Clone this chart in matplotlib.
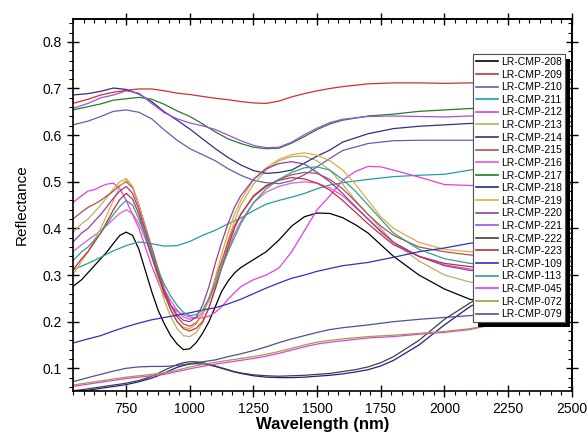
import matplotlib
matplotlib.use('Agg')
import matplotlib.pyplot as plt
from matplotlib.ticker import MultipleLocator, AutoMinorLocator
import matplotlib.patheffects as pe

plt.rcParams['font.family'] = ['Liberation Sans', 'DejaVu Sans']

# coarse grid for the smooth spectra
wl = [540, 600, 650, 700, 750, 800, 850, 900, 950, 1000, 1050, 1100, 1150, 1200, 1250,
      1300, 1350, 1400, 1450, 1500, 1550, 1600, 1700, 1800, 1900, 2000, 2100, 2200,
      2300, 2400, 2500]
# finer grid for spectra with the deep band near 1000 nm
wl_f = [540, 575, 600, 625, 650, 675, 700, 725, 750, 775, 800, 825, 850, 875, 900, 925,
        950, 975, 1000, 1025, 1050, 1075, 1100, 1125, 1150, 1175, 1200, 1250, 1300, 1350,
        1400, 1450, 1500, 1550, 1600, 1650, 1700, 1750, 1800, 1900, 2000, 2100, 2200,
        2300, 2400, 2500]

labels = ['LR-CMP-208', 'LR-CMP-209', 'LR-CMP-210', 'LR-CMP-211', 'LR-CMP-212', 'LR-CMP-213',
          'LR-CMP-214', 'LR-CMP-215', 'LR-CMP-216', 'LR-CMP-217', 'LR-CMP-218', 'LR-CMP-219',
          'LR-CMP-220', 'LR-CMP-221', 'LR-CMP-222', 'LR-CMP-223', 'LR-CMP-109', 'LR-CMP-113',
          'LR-CMP-045', 'LR-CMP-072', 'LR-CMP-079']

colors = ['#000000', '#d03030', '#6060b0', '#20a0a0', '#e040e0', '#b8b060',
          '#303080', '#b05050', '#e060c0', '#208020', '#202090', '#e8a840',
          '#9040a0', '#a050e0', '#404040', '#c03040', '#3030c0', '#30a090',
          '#e040e0', '#a0a040', '#505090']

# fine-grid spectra
r208 = [0.275, 0.29, 0.305, 0.32, 0.335, 0.35, 0.368, 0.385, 0.392, 0.385, 0.355, 0.31, 0.265, 0.225,
        0.195, 0.17, 0.152, 0.14, 0.142, 0.155, 0.175, 0.2, 0.232, 0.265, 0.287, 0.304, 0.316,
        0.333, 0.35, 0.375, 0.405, 0.425, 0.433, 0.432, 0.423, 0.408, 0.39, 0.365, 0.34, 0.30,
        0.27, 0.248, 0.238, 0.23, 0.225, 0.22]
r212 = [0.455, 0.47, 0.48, 0.483, 0.49, 0.495, 0.497, 0.485, 0.46, 0.43, 0.40, 0.36, 0.32, 0.285,
        0.255, 0.235, 0.222, 0.215, 0.21, 0.208, 0.208, 0.212, 0.22, 0.232, 0.248, 0.262, 0.275,
        0.29, 0.30, 0.315, 0.35, 0.395, 0.44, 0.47, 0.503, 0.522, 0.533, 0.532, 0.525, 0.51,
        0.494, 0.492, 0.493, 0.495, 0.495, 0.495]
r213 = [0.39, 0.41, 0.42, 0.435, 0.45, 0.467, 0.485, 0.50, 0.507, 0.49, 0.45, 0.40, 0.345, 0.29,
        0.245, 0.21, 0.185, 0.17, 0.168, 0.177, 0.197, 0.23, 0.275, 0.325, 0.375, 0.415, 0.45,
        0.495, 0.525, 0.545, 0.554, 0.555, 0.545, 0.525, 0.495, 0.46, 0.43, 0.40, 0.37, 0.33,
        0.30, 0.285, 0.28, 0.275, 0.27, 0.27]
r215 = [0.42, 0.435, 0.445, 0.452, 0.46, 0.47, 0.48, 0.492, 0.50, 0.487, 0.45, 0.405, 0.36, 0.315,
        0.27, 0.235, 0.21, 0.195, 0.19, 0.198, 0.215, 0.25, 0.29, 0.33, 0.37, 0.405, 0.43,
        0.468, 0.49, 0.505, 0.515, 0.52, 0.518, 0.505, 0.485, 0.458, 0.43, 0.405, 0.385, 0.36,
        0.35, 0.343, 0.34, 0.335, 0.33, 0.33]
r216 = [0.35, 0.365, 0.375, 0.385, 0.395, 0.407, 0.42, 0.432, 0.44, 0.432, 0.41, 0.378, 0.34, 0.305,
        0.27, 0.245, 0.225, 0.21, 0.205, 0.208, 0.22, 0.245, 0.28, 0.318, 0.355, 0.388, 0.415,
        0.455, 0.478, 0.49, 0.497, 0.50, 0.497, 0.487, 0.47, 0.445, 0.42, 0.395, 0.37, 0.34,
        0.322, 0.313, 0.31, 0.305, 0.30, 0.30]
r218 = [0.05, 0.052, 0.053, 0.055, 0.057, 0.059, 0.061, 0.063, 0.065, 0.068, 0.071, 0.075, 0.079, 0.084,
        0.09, 0.096, 0.102, 0.106, 0.109, 0.11, 0.109, 0.107, 0.104, 0.1, 0.096, 0.092, 0.089,
        0.084, 0.081, 0.08, 0.08, 0.081, 0.083, 0.085, 0.088, 0.092, 0.097, 0.105, 0.117, 0.15,
        0.193, 0.232, 0.262, 0.29, 0.31, 0.33]
r219 = [0.30, 0.33, 0.35, 0.375, 0.40, 0.43, 0.46, 0.49, 0.503, 0.49, 0.45, 0.40, 0.35, 0.30,
        0.26, 0.225, 0.20, 0.188, 0.185, 0.195, 0.215, 0.25, 0.295, 0.345, 0.39, 0.43, 0.46,
        0.505, 0.53, 0.548, 0.558, 0.562, 0.557, 0.545, 0.525, 0.495, 0.46, 0.425, 0.40, 0.37,
        0.355, 0.35, 0.345, 0.34, 0.335, 0.33]
r220 = [0.37, 0.39, 0.40, 0.415, 0.43, 0.447, 0.465, 0.48, 0.49, 0.475, 0.44, 0.395, 0.35, 0.305,
        0.265, 0.235, 0.215, 0.203, 0.20, 0.21, 0.235, 0.275, 0.325, 0.37, 0.41, 0.445, 0.47,
        0.505, 0.528, 0.539, 0.543, 0.538, 0.52, 0.50, 0.475, 0.447, 0.42, 0.393, 0.37, 0.34,
        0.32, 0.31, 0.305, 0.30, 0.30, 0.30]
r222 = [0.052, 0.054, 0.056, 0.058, 0.06, 0.062, 0.064, 0.066, 0.068, 0.071, 0.074, 0.078, 0.083, 0.089,
        0.096, 0.102, 0.108, 0.112, 0.114, 0.114, 0.112, 0.109, 0.105, 0.101, 0.097, 0.093, 0.09,
        0.086, 0.084, 0.083, 0.084, 0.085, 0.087, 0.089, 0.093, 0.097, 0.103, 0.112, 0.125, 0.16,
        0.205, 0.24, 0.27, 0.30, 0.32, 0.34]
r223 = [0.31, 0.335, 0.35, 0.37, 0.39, 0.415, 0.44, 0.462, 0.475, 0.463, 0.43, 0.385, 0.34, 0.30,
        0.26, 0.225, 0.20, 0.185, 0.18, 0.186, 0.20, 0.23, 0.27, 0.315, 0.36, 0.40, 0.43,
        0.47, 0.492, 0.503, 0.509, 0.506, 0.497, 0.482, 0.46, 0.435, 0.41, 0.387, 0.365, 0.34,
        0.325, 0.318, 0.315, 0.31, 0.31, 0.31]
r113 = [0.33, 0.35, 0.36, 0.375, 0.39, 0.41, 0.43, 0.447, 0.46, 0.45, 0.42, 0.385, 0.35, 0.31,
        0.28, 0.255, 0.235, 0.22, 0.213, 0.215, 0.225, 0.25, 0.28, 0.315, 0.35, 0.38, 0.41,
        0.455, 0.485, 0.505, 0.52, 0.53, 0.532, 0.525, 0.505, 0.48, 0.45, 0.42, 0.39, 0.355,
        0.335, 0.325, 0.32, 0.315, 0.31, 0.31]

# coarse-grid spectra
r209 = [0.668, 0.677, 0.686, 0.692, 0.696, 0.699, 0.699, 0.695, 0.69, 0.687, 0.683, 0.679, 0.676, 0.672, 0.669,
        0.668, 0.673, 0.682, 0.689, 0.695, 0.70, 0.704, 0.71, 0.712, 0.712, 0.711, 0.712, 0.712,
        0.712, 0.713, 0.713]
r210 = [0.622, 0.63, 0.64, 0.651, 0.654, 0.649, 0.635, 0.611, 0.589, 0.571, 0.558, 0.545, 0.528, 0.514, 0.503,
        0.498, 0.496, 0.502, 0.515, 0.532, 0.55, 0.567, 0.582, 0.588, 0.589, 0.589, 0.589, 0.59,
        0.59, 0.59, 0.59]
r211 = [0.311, 0.325, 0.338, 0.352, 0.363, 0.371, 0.367, 0.362, 0.363, 0.372, 0.385, 0.396, 0.41, 0.422, 0.438,
        0.452, 0.46, 0.467, 0.475, 0.485, 0.493, 0.498, 0.505, 0.511, 0.514, 0.516, 0.525, 0.532,
        0.535, 0.537, 0.54]
r214 = [0.686, 0.689, 0.694, 0.701, 0.698, 0.688, 0.672, 0.65, 0.632, 0.613, 0.592, 0.571, 0.552, 0.536, 0.524,
        0.518, 0.52, 0.525, 0.54, 0.555, 0.568, 0.585, 0.603, 0.614, 0.619, 0.622, 0.625, 0.626,
        0.627, 0.628, 0.628]
r217 = [0.654, 0.661, 0.667, 0.675, 0.678, 0.681, 0.677, 0.666, 0.652, 0.64, 0.624, 0.607, 0.592, 0.582, 0.574,
        0.571, 0.572, 0.583, 0.597, 0.612, 0.624, 0.632, 0.641, 0.645, 0.651, 0.654, 0.657, 0.658,
        0.66, 0.66, 0.66]
r221 = [0.657, 0.668, 0.68, 0.686, 0.695, 0.69, 0.668, 0.648, 0.635, 0.626, 0.62, 0.612, 0.60, 0.588, 0.578,
        0.573, 0.574, 0.585, 0.601, 0.615, 0.627, 0.634, 0.64, 0.641, 0.64, 0.639, 0.641, 0.641,
        0.642, 0.642, 0.642]
r109 = [0.154, 0.163, 0.17, 0.18, 0.189, 0.197, 0.204, 0.209, 0.214, 0.219, 0.225, 0.23, 0.238, 0.248, 0.26,
        0.272, 0.283, 0.293, 0.30, 0.308, 0.314, 0.32, 0.327, 0.338, 0.35, 0.358, 0.368, 0.375,
        0.38, 0.385, 0.39]
r045 = [0.061, 0.066, 0.07, 0.074, 0.078, 0.081, 0.084, 0.087, 0.093, 0.099, 0.104, 0.109, 0.113, 0.117, 0.121,
        0.126, 0.132, 0.139, 0.146, 0.152, 0.156, 0.159, 0.165, 0.168, 0.173, 0.177, 0.183, 0.195,
        0.20, 0.205, 0.21]
r072 = [0.064, 0.069, 0.073, 0.077, 0.081, 0.084, 0.087, 0.09, 0.096, 0.103, 0.108, 0.113, 0.117, 0.121, 0.125,
        0.13, 0.136, 0.143, 0.15, 0.156, 0.16, 0.163, 0.168, 0.171, 0.175, 0.179, 0.185, 0.195,
        0.20, 0.205, 0.21]
r079 = [0.071, 0.08, 0.087, 0.094, 0.10, 0.103, 0.104, 0.104, 0.106, 0.11, 0.114, 0.118, 0.125, 0.131, 0.138,
        0.146, 0.155, 0.163, 0.17, 0.177, 0.183, 0.187, 0.193, 0.20, 0.205, 0.209, 0.213, 0.217,
        0.22, 0.223, 0.226]

series = [r208, r209, r210, r211, r212, r213, r214, r215, r216, r217, r218, r219,
          r220, r221, r222, r223, r109, r113, r045, r072, r079]

fig = plt.figure(figsize=(5.87, 4.37), dpi=100)
ax = fig.add_axes([0.1239, 0.106, 0.8501, 0.8505])

for vals, lab, c in zip(series, labels, colors):
    x = wl_f if len(vals) == len(wl_f) else wl
    ax.plot(x, vals, color=c, lw=0.9, label=lab)

ax.set_xlim(540, 2500)
ax.set_ylim(0.052, 0.849)

ax.xaxis.set_major_locator(MultipleLocator(250))
ax.xaxis.set_minor_locator(AutoMinorLocator(6))
ax.yaxis.set_major_locator(MultipleLocator(0.1))
ax.yaxis.set_minor_locator(AutoMinorLocator(5))
ax.tick_params(which='major', direction='inout', length=8, width=1, labelsize=10, pad=4)
ax.tick_params(which='minor', direction='out', length=3, width=0.8)
for s in ax.spines.values():
    s.set_linewidth(1.2)

# top and right ticks point inward
top = ax.secondary_xaxis('top')
top.xaxis.set_major_locator(MultipleLocator(250))
top.xaxis.set_minor_locator(AutoMinorLocator(6))
top.tick_params(which='major', direction='inout', length=8, width=1, labeltop=False)
top.tick_params(which='minor', direction='in', length=3, width=0.8)
right = ax.secondary_yaxis('right')
right.yaxis.set_major_locator(MultipleLocator(0.1))
right.yaxis.set_minor_locator(AutoMinorLocator(5))
right.tick_params(which='major', direction='inout', length=8, width=1, labelright=False)
right.tick_params(which='minor', direction='in', length=3, width=0.8)
top.spines['top'].set_linewidth(1.2)
right.spines['right'].set_linewidth(1.2)

ax.set_xlabel('Wavelength (nm)', fontsize=12, fontweight='bold', labelpad=1)
ax.set_ylabel('Reflectance', fontsize=11, labelpad=10)

leg = ax.legend(loc='upper right', bbox_to_anchor=(0.9866, 0.906), borderaxespad=0,
                fontsize=7.5, fancybox=False, framealpha=1, edgecolor='#555555',
                handlelength=2.1, handletextpad=0.3, labelspacing=0.25, borderpad=0.3)
leg.get_frame().set_linewidth(0.8)
leg.get_frame().set_path_effects([
    pe.withSimplePatchShadow(offset=(3.6, -3.6), shadow_rgbFace='k', alpha=1),
    pe.Normal()])
for line in leg.get_lines():
    line.set_linewidth(1.2)

fig.savefig('out.png', dpi=100)
